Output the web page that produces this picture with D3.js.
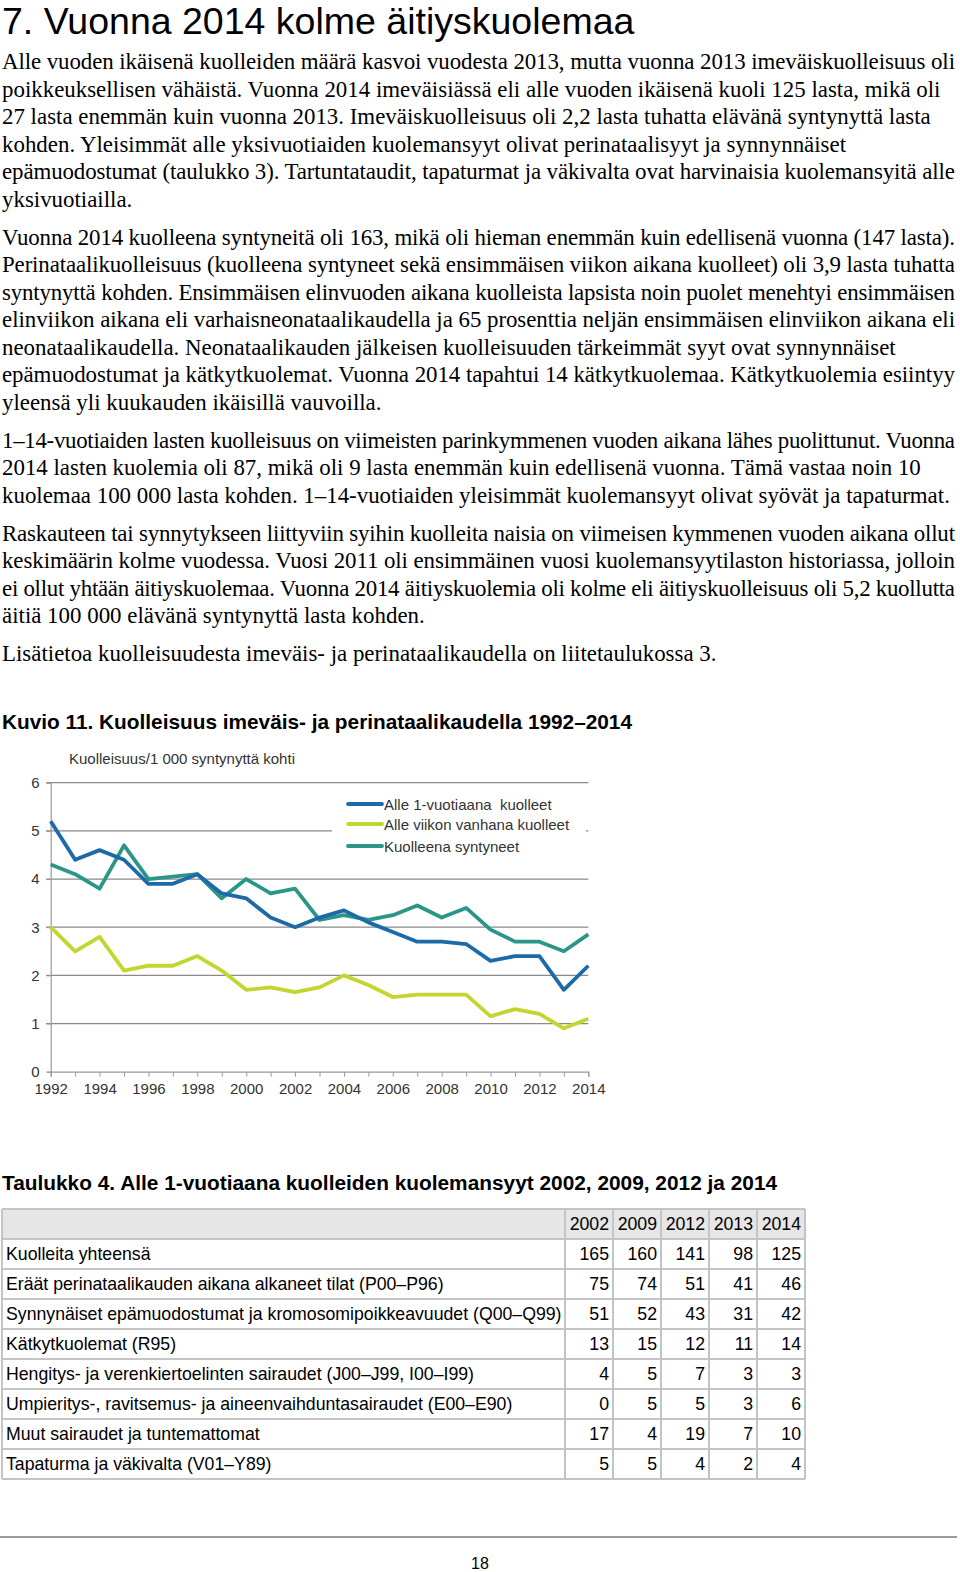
<!DOCTYPE html>
<html><head><meta charset="utf-8">
<script src="https://cdn.jsdelivr.net/npm/d3@7"></script>
<style>
html,body{margin:0;padding:0;background:#fff;}
svg{display:block;}
</style></head>
<body>
<script>
// ---------- DATA ----------
const title = "7. Vuonna 2014 kolme äitiyskuolemaa";
const paragraphs = [
 ["Alle vuoden ikäisenä kuolleiden määrä kasvoi vuodesta 2013, mutta vuonna 2013 imeväiskuolleisuus oli",
  "poikkeuksellisen vähäistä. Vuonna 2014 imeväisiässä eli alle vuoden ikäisenä kuoli 125 lasta, mikä oli",
  "27 lasta enemmän kuin vuonna 2013. Imeväiskuolleisuus oli 2,2 lasta tuhatta elävänä syntynyttä lasta",
  "kohden. Yleisimmät alle yksivuotiaiden kuolemansyyt olivat perinataalisyyt ja synnynnäiset",
  "epämuodostumat (taulukko 3). Tartuntataudit, tapaturmat ja väkivalta ovat harvinaisia kuolemansyitä alle",
  "yksivuotiailla."],
 ["Vuonna 2014 kuolleena syntyneitä oli 163, mikä oli hieman enemmän kuin edellisenä vuonna (147 lasta).",
  "Perinataalikuolleisuus (kuolleena syntyneet sekä ensimmäisen viikon aikana kuolleet) oli 3,9 lasta tuhatta",
  "syntynyttä kohden. Ensimmäisen elinvuoden aikana kuolleista lapsista noin puolet menehtyi ensimmäisen",
  "elinviikon aikana eli varhaisneonataalikaudella ja 65 prosenttia neljän ensimmäisen elinviikon aikana eli",
  "neonataalikaudella. Neonataalikauden jälkeisen kuolleisuuden tärkeimmät syyt ovat synnynnäiset",
  "epämuodostumat ja kätkytkuolemat. Vuonna 2014 tapahtui 14 kätkytkuolemaa. Kätkytkuolemia esiintyy",
  "yleensä yli kuukauden ikäisillä vauvoilla."],
 ["1–14-vuotiaiden lasten kuolleisuus on viimeisten parinkymmenen vuoden aikana lähes puolittunut. Vuonna",
  "2014 lasten kuolemia oli 87, mikä oli 9 lasta enemmän kuin edellisenä vuonna. Tämä vastaa noin 10",
  "kuolemaa 100 000 lasta kohden. 1–14-vuotiaiden yleisimmät kuolemansyyt olivat syövät ja tapaturmat."],
 ["Raskauteen tai synnytykseen liittyviin syihin kuolleita naisia on viimeisen kymmenen vuoden aikana ollut",
  "keskimäärin kolme vuodessa. Vuosi 2011 oli ensimmäinen vuosi kuolemansyytilaston historiassa, jolloin",
  "ei ollut yhtään äitiyskuolemaa. Vuonna 2014 äitiyskuolemia oli kolme eli äitiyskuolleisuus oli 5,2 kuollutta",
  "äitiä 100 000 elävänä syntynyttä lasta kohden."],
 ["Lisätietoa kuolleisuudesta imeväis- ja perinataalikaudella on liitetaulukossa 3."]
];
const chartCaption = "Kuvio 11. Kuolleisuus imeväis- ja perinataalikaudella 1992–2014";
const chartUnit = "Kuolleisuus/1 000 syntynyttä kohti";
const years = d3.range(1992, 2015);
const xTickLabels = ["1992","1994","1996","1998","2000","2002","2004","2006","2008","2010","2012","2014"];
const yTickLabels = ["0","1","2","3","4","5","6"];
const seriesNames = ["Alle 1-vuotiaana  kuolleet","Alle viikon vanhana kuolleet","Kuolleena syntyneet"];
const infantMortality = [5.2,4.4,4.6,4.4,3.9,3.9,4.1,3.7,3.6,3.2,3.0,3.2,3.35,3.1,2.9,2.7,2.7,2.65,2.3,2.4,2.4,1.7,2.2];
const earlyNeonatal   = [3.0,2.5,2.8,2.1,2.2,2.2,2.4,2.1,1.7,1.75,1.65,1.75,2.0,1.8,1.55,1.6,1.6,1.6,1.15,1.3,1.2,0.9,1.1];
const stillborn       = [4.3,4.1,3.8,4.7,4.0,4.05,4.1,3.6,4.0,3.7,3.8,3.15,3.25,3.15,3.25,3.45,3.2,3.4,2.95,2.7,2.7,2.5,2.85];
const seriesColors = ["#1c6aa8","#c3d52f","#2a9687"];

const tableCaption = "Taulukko 4. Alle 1-vuotiaana kuolleiden kuolemansyyt 2002, 2009, 2012 ja 2014";
const tableYears = ["2002","2009","2012","2013","2014"];
const causes = [
 "Kuolleita yhteensä",
 "Eräät perinataalikauden aikana alkaneet tilat (P00–P96)",
 "Synnynäiset epämuodostumat ja kromosomipoikkeavuudet (Q00–Q99)",
 "Kätkytkuolemat (R95)",
 "Hengitys- ja verenkiertoelinten sairaudet (J00–J99, I00–I99)",
 "Umpieritys-, ravitsemus- ja aineenvaihduntasairaudet (E00–E90)",
 "Muut sairaudet ja tuntemattomat",
 "Tapaturma ja väkivalta (V01–Y89)"];
const v2002 = [165,75,51,13,4,0,17,5];
const v2009 = [160,74,52,15,5,5,4,5];
const v2012 = [141,51,43,12,7,5,19,4];
const v2013 = [98,41,31,11,3,3,7,2];
const v2014 = [125,46,42,14,3,6,10,4];
const pageNumber = "18";

// ---------- LAYOUT ----------
const W = 960, H = 1572;
const SANS = "'Liberation Sans', Arial, sans-serif";
const SERIF = "'Liberation Serif', 'Times New Roman', serif";
const svg = d3.select("body").append("svg").attr("width", W).attr("height", H);

svg.append("text").attr("x", 2).attr("y", 34).attr("font-family", SANS)
  .attr("font-size", 37.5).attr("fill", "#000").text(title);

// body text
const lineH = 27.55, paraGap = 10.3;
const maxLineW = 953;
let yb = 69;
const body = svg.append("g").attr("font-family", SERIF).attr("font-size", 22.9).attr("fill", "#000");
paragraphs.forEach(p => {
  p.forEach(line => {
    const t = body.append("text").attr("x", 2).attr("y", yb).text(line);
    const len = t.node().getComputedTextLength();
    if (len > maxLineW) t.attr("textLength", maxLineW).attr("lengthAdjust", "spacing");
    yb += lineH;
  });
  yb += paraGap;
});

// chart caption
svg.append("text").attr("x", 2).attr("y", 729).attr("font-family", SANS)
  .attr("font-weight", "bold").attr("font-size", 20.8).text(chartCaption);

// ---------- CHART ----------
const x = d3.scaleLinear().domain([1992, 2014]).range([50.7, 588.3]);
const y = d3.scaleLinear().domain([0, 6]).range([1071.7, 782.7]);
const chart = svg.append("g").attr("font-family", SANS).attr("font-size", 15).attr("fill", "#333");

chart.append("text").attr("x", 69).attr("y", 764).attr("fill", "#333").text(chartUnit);

// gridlines
chart.append("g").selectAll("line").data(yTickLabels.map(Number).filter(d => d > 0)).join("line")
  .attr("x1", 46).attr("x2", x(2014)).attr("y1", d => y(d)).attr("y2", d => y(d))
  .attr("stroke", "#8a8a8a").attr("stroke-width", 1.2);

// y axis
const yAxis = d3.axisLeft(y).tickValues(yTickLabels.map(Number)).tickSize(4).tickPadding(7)
  .tickFormat((d, i) => yTickLabels[i]);
const gy = chart.append("g").attr("transform", `translate(${x(1992)},0)`).call(yAxis);
gy.select(".domain").attr("stroke", "#9a9a9a").attr("stroke-width", 1.2);
gy.selectAll(".tick line").attr("stroke", "#9a9a9a");
gy.selectAll("text").attr("font-family", SANS).attr("font-size", 15).attr("fill", "#333");

// x axis
const xAxis = d3.axisBottom(x).tickValues(years).tickSize(5).tickPadding(7)
  .tickFormat(d => xTickLabels.includes(String(d)) ? String(d) : "");
const gx = chart.append("g").attr("transform", `translate(0,${y(0)})`).call(xAxis);
gx.select(".domain").attr("stroke", "#9a9a9a").attr("stroke-width", 1.2);
gx.selectAll(".tick line").attr("stroke", "#9a9a9a");
gx.selectAll("text").attr("font-family", SANS).attr("font-size", 15).attr("fill", "#333");

// legend box (covers gridline)
const leg = chart.append("g");
leg.append("rect").attr("x", 332).attr("y", 790).attr("width", 254).attr("height", 78).attr("fill", "#fff");

// lines
const seriesData = [infantMortality, earlyNeonatal, stillborn];
const line = d3.line().x((d, i) => x(years[i])).y(d => y(d));
const drawOrder = [1, 2, 0];
drawOrder.forEach(k => {
  chart.append("path").datum(seriesData[k]).attr("d", line)
    .attr("fill", "none").attr("stroke", seriesColors[k]).attr("stroke-width", 3.8)
    .attr("stroke-linejoin", "round");
});

const legY = [804, 824, 846];
seriesNames.forEach((n, i) => {
  leg.append("line").attr("x1", 348).attr("x2", 382).attr("y1", legY[i]).attr("y2", legY[i])
    .attr("stroke", seriesColors[i]).attr("stroke-width", 3.8).attr("stroke-linecap", "round");
  leg.append("text").attr("x", 384).attr("y", legY[i] + 5.5).attr("fill", "#333")
    .style("white-space", "pre").attr("xml:space", "preserve").text(n);
});

// ---------- TABLE ----------
svg.append("text").attr("x", 2).attr("y", 1190).attr("font-family", SANS)
  .attr("font-weight", "bold").attr("font-size", 20.85).text(tableCaption);

const colEdges = [2, 565, 613, 661, 709, 757, 805];
const tTop = 1209, rowH = 30;
const cols = [v2002, v2009, v2012, v2013, v2014];
const tbl = svg.append("g").attr("font-family", SANS).attr("font-size", 17.7).attr("fill", "#000");
tbl.append("rect").attr("x", colEdges[0]).attr("y", tTop).attr("width", colEdges[6] - colEdges[0])
  .attr("height", rowH).attr("fill", "#e6e6e6");
const nRows = causes.length + 1;
for (let r = 0; r <= nRows; r++) {
  tbl.append("line").attr("x1", colEdges[0]).attr("x2", colEdges[6])
    .attr("y1", tTop + r * rowH).attr("y2", tTop + r * rowH)
    .attr("stroke", "#c4c4c4").attr("stroke-width", 2);
}
colEdges.forEach(cx => {
  tbl.append("line").attr("x1", cx).attr("x2", cx).attr("y1", tTop).attr("y2", tTop + nRows * rowH)
    .attr("stroke", "#c4c4c4").attr("stroke-width", 2);
});
tableYears.forEach((yr, j) => {
  tbl.append("text").attr("x", colEdges[j + 2] - 4).attr("y", tTop + rowH / 2 + 6)
    .attr("text-anchor", "end").text(yr);
});
causes.forEach((c, i) => {
  const ty = tTop + (i + 1) * rowH + rowH / 2 + 6;
  tbl.append("text").attr("x", 6).attr("y", ty).text(c);
  cols.forEach((col, j) => {
    tbl.append("text").attr("x", colEdges[j + 2] - 4).attr("y", ty).attr("text-anchor", "end").text(col[i]);
  });
});

// footer
svg.append("line").attr("x1", 0).attr("x2", 957).attr("y1", 1537).attr("y2", 1537)
  .attr("stroke", "#9a9a9a").attr("stroke-width", 2);
svg.append("text").attr("x", 480).attr("y", 1569).attr("text-anchor", "middle")
  .attr("font-family", SANS).attr("font-size", 16).text(pageNumber);
</script>
</body></html>
